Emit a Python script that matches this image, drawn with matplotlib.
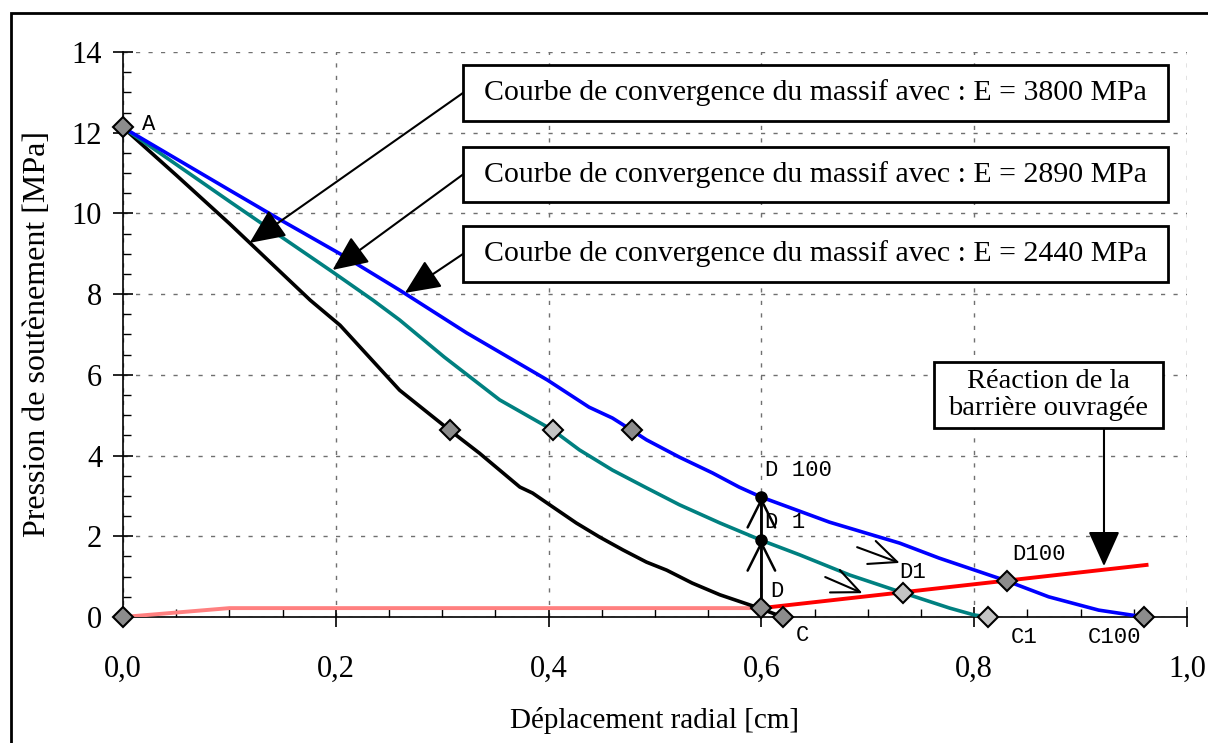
import matplotlib.pyplot as plt
from matplotlib.patches import Rectangle
from matplotlib.ticker import MultipleLocator, FuncFormatter

# Convergence curves (deplacement radial [cm], pression [MPa])
black_x = [0, 0.05, 0.10, 0.15, 0.176, 0.204, 0.26, 0.307, 0.335, 0.373, 0.385, 0.401,
           0.426, 0.448, 0.47, 0.492, 0.511, 0.535, 0.561, 0.598, 0.62]
black_y = [12.13, 10.95, 9.75, 8.5, 7.85, 7.23, 5.62, 4.63, 4.06, 3.22, 3.07, 2.78,
           2.33, 1.98, 1.66, 1.36, 1.16, 0.84, 0.55, 0.22, 0.0]

teal_x = [0, 0.1, 0.197, 0.235, 0.26, 0.302, 0.354, 0.404, 0.429, 0.46, 0.492, 0.523,
          0.561, 0.6, 0.636, 0.683, 0.733, 0.777, 0.8, 0.813]
teal_y = [12.13, 10.3, 8.55, 7.85, 7.36, 6.44, 5.38, 4.63, 4.14, 3.64, 3.2, 2.78,
          2.33, 1.9, 1.54, 1.04, 0.6, 0.22, 0.05, 0.0]

blue_x = [0, 0.1, 0.148, 0.204, 0.26, 0.323, 0.399, 0.438, 0.46, 0.478, 0.492, 0.523,
          0.554, 0.579, 0.6, 0.664, 0.73, 0.767, 0.831, 0.87, 0.917, 0.96]
blue_y = [12.13, 10.58, 9.84, 9.0, 8.1, 7.04, 5.87, 5.2, 4.93, 4.63, 4.39, 3.96,
          3.57, 3.22, 2.97, 2.35, 1.83, 1.46, 0.89, 0.5, 0.17, 0.0]

# barriere ouvragee
red_x = [0.6, 0.962]
red_y = [0.22, 1.29]
pink_x = [0, 0.1, 0.6]
pink_y = [0, 0.22, 0.22]

# marked points
dark_x = [0, 0, 0.307, 0.478, 0.6, 0.62, 0.831, 0.96]
dark_y = [12.13, 0, 4.63, 4.63, 0.22, 0.0, 0.89, 0.0]
light_x = [0.404, 0.733, 0.813]
light_y = [4.63, 0.6, 0.0]
dot_x = [0.6, 0.6]
dot_y = [1.9, 2.97]

labels = ['Courbe de convergence du massif avec : E = 3800 MPa',
          'Courbe de convergence du massif avec : E = 2890 MPa',
          'Courbe de convergence du massif avec : E = 2440 MPa']

plt.rcParams['font.family'] = 'Liberation Serif'

fig = plt.figure(figsize=(12.08, 7.43), dpi=100)
ax = fig.add_axes([0.1018, 0.1696, 0.8808, 0.7604])

# figure frame
fig.patches.append(Rectangle((11 / 1208, -0.1), 1.2, 1 - 13 / 743 + 0.1, transform=fig.transFigure,
                             fill=False, lw=2, ec='black'))

ax.plot(pink_x, pink_y, color='#ff8080', lw=2.8, zorder=3)
ax.plot(black_x, black_y, color='black', lw=2.6, zorder=3)
ax.plot(teal_x, teal_y, color='#008080', lw=2.6, zorder=3)
ax.plot(blue_x, blue_y, color='#0000ff', lw=2.6, zorder=3)
ax.plot(red_x, red_y, color='#ff0000', lw=2.8, zorder=3)

# vertical path D -> D1 -> D100
ax.plot([0.6, 0.6], [0.22, 2.97], color='black', lw=1.8, zorder=4)
ax.annotate('', xy=(0.6, 1.9), xytext=(0.6, 0.22),
            arrowprops=dict(arrowstyle='->,head_length=0.9,head_width=0.45', color='black', lw=1.8,
                            shrinkA=0, shrinkB=0, mutation_scale=22), zorder=4)
ax.annotate('', xy=(0.6, 2.97), xytext=(0.6, 1.9),
            arrowprops=dict(arrowstyle='->,head_length=0.9,head_width=0.45', color='black', lw=1.8,
                            shrinkA=0, shrinkB=0, mutation_scale=22), zorder=4)
ax.plot(dot_x, dot_y, 'o', color='black', ms=8, zorder=5)

ax.plot(dark_x, dark_y, 'D', ms=10.5, mfc='#8c8c8c', mec='black', mew=1.5, zorder=6, clip_on=False)
ax.plot(light_x, light_y, 'D', ms=10.5, mfc='#c4c4c4', mec='black', mew=1.5, zorder=6, clip_on=False)

# small open arrows
for (x0, y0), (x1, y1) in [((0.690, 1.73), (0.730, 1.34)), ((0.660, 0.99), (0.695, 0.59))]:
    ax.annotate('', xy=(x1, y1), xytext=(x0, y0),
                arrowprops=dict(arrowstyle='->,head_length=0.9,head_width=0.4', color='black', lw=1.5,
                                shrinkA=0, shrinkB=0, mutation_scale=22))

# point labels
mono = dict(family='Liberation Mono', fontsize=16, va='center', ha='left')
ax.text(0.018, 12.2, 'A', **mono)
ax.text(0.603, 3.64, 'D 100', **mono)
ax.text(0.603, 2.35, 'D 1', **mono)
ax.text(0.608, 0.62, 'D', **mono)
ax.text(0.632, -0.45, 'C', **mono)
ax.text(0.730, 1.11, 'D1', **mono)
ax.text(0.834, -0.5, 'C1', **mono)
ax.text(0.836, 1.54, 'D100', **mono)
ax.text(0.907, -0.5, 'C100', **mono)

# boxed annotations: (x0, x1, y0, y1) in data units, arrow tip
boxes = [(0.3195, 0.982, 12.29, 13.68), (0.3195, 0.982, 10.28, 11.65), (0.3195, 0.982, 8.30, 9.69)]
tips = [(0.119, 9.27), (0.197, 8.60), (0.265, 8.03)]
arrow_kw = dict(arrowstyle='-|>,head_length=1.0,head_width=0.45', color='black',
                lw=1.5, shrinkA=0, shrinkB=0, mutation_scale=22)
for lab, (x0, x1, y0, y1), tip in zip(labels, boxes, tips):
    ax.add_patch(Rectangle((x0, y0), x1 - x0, y1 - y0, fc='white', ec='black', lw=2,
                           zorder=7, clip_on=False))
    ax.text((x0 + x1) / 2, (y0 + y1) / 2, lab, ha='center', va='center', fontsize=21.5, zorder=8)
    ax.annotate('', xy=tip, xytext=(x0, (y0 + y1) / 2), arrowprops=arrow_kw, zorder=6)

bx0, bx1, by0, by1 = 0.762, 0.977, 4.68, 6.32
ax.add_patch(Rectangle((bx0, by0), bx1 - bx0, by1 - by0, fc='white', ec='black', lw=2, zorder=7))
ax.text((bx0 + bx1) / 2, (by0 + by1) / 2, 'Réaction de la\nbarrière ouvragée', ha='center',
        va='center', fontsize=20.5, linespacing=1.1, zorder=8)
ax.annotate('', xy=(0.922, 1.26), xytext=(0.922, by0), arrowprops=arrow_kw, zorder=6)

ax.set_xlim(0, 1.0)
ax.set_ylim(0, 14)
ax.xaxis.set_major_locator(MultipleLocator(0.2))
ax.xaxis.set_minor_locator(MultipleLocator(0.05))
ax.yaxis.set_major_locator(MultipleLocator(2))
ax.yaxis.set_minor_locator(MultipleLocator(0.5))
ax.xaxis.set_major_formatter(FuncFormatter(lambda v, p: f'{v:.1f}'.replace('.', ',')))
ax.yaxis.set_major_formatter(FuncFormatter(lambda v, p: f'{v:.0f}'))

ax.spines['top'].set_visible(False)
ax.spines['right'].set_visible(False)
ax.spines['left'].set_linewidth(1.2)
ax.spines['bottom'].set_linewidth(1.2)
ax.tick_params(which='major', direction='inout', length=14, width=1.2, labelsize=22)
ax.tick_params(axis='x', which='major', pad=20)
ax.tick_params(axis='y', which='major', pad=8)
ax.tick_params(which='minor', direction='in', length=6, width=1)
ax.grid(True, which='major', color='#707070', lw=1, linestyle=(0, (3, 6)))

ax.set_xlabel('Déplacement radial [cm]', fontsize=21, labelpad=17)
ax.set_ylabel('Pression de soutènement [MPa]', fontsize=23, labelpad=14)

plt.savefig('out.png', dpi=100)
